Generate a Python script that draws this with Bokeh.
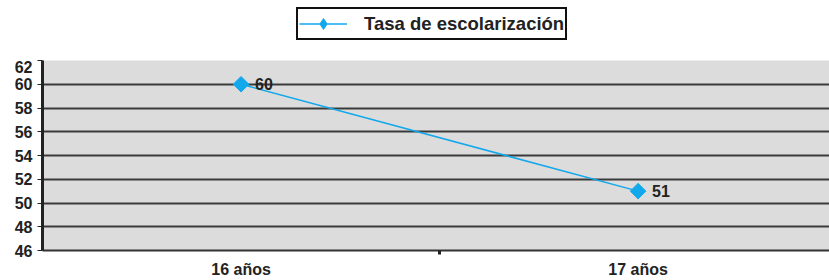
import math
from bokeh.plotting import figure
from bokeh.layouts import column
from bokeh.models import FixedTicker, Legend, LegendItem, Range1d, ColumnDataSource, LabelSet
from bokeh.core.properties import value
from bokeh.embed import file_html
from bokeh.resources import INLINE

categories = ["16 años", "17 años"]
values = [60, 51]
y_ticks = [46, 48, 50, 52, 54, 56, 58, 60, 62]
series_name = "Tasa de escolarización"

xpos = [i + 0.5 for i in range(len(categories))]
src = ColumnDataSource(dict(x=xpos, y=values, lbl=[str(v) for v in values]))

FONT = "Liberation Sans"
COL = "#12a8ec"
TXT = "#222222"

# ---- legend strip (top) ----
top = figure(width=829, height=60, output_backend="svg", toolbar_location=None,
             x_axis_location=None, y_axis_location=None,
             x_range=Range1d(0, 829), y_range=Range1d(0, 60),
             min_border_left=0, min_border_right=0, min_border_top=0, min_border_bottom=0)
top.grid.visible = False
top.outline_line_color = None
top.background_fill_color = "white"
lg_line = top.line(x=[-100, -90], y=[-100, -100], line_color=COL, line_width=1.5)
lg_mk = top.scatter(x=[-100], y=[-100], marker="diamond", size=11,
                    fill_color=COL, line_color=COL)
legend = Legend(items=[LegendItem(label=series_name, renderers=[lg_line, lg_mk])],
                location=(254, 20), orientation="horizontal",
                label_text_font=FONT, label_text_font_style="bold", label_text_font_size="18.5px",
                label_text_color=TXT, glyph_width=48, glyph_height=27,
                border_line_color="#111111", border_line_width=2, border_line_alpha=1.0,
                padding=1, margin=0, spacing=0, label_standoff=17)
top.add_layout(legend, "center")

# ---- main chart ----
p = figure(width=829, height=220, output_backend="svg", toolbar_location=None,
           x_range=Range1d(0, 1.982), y_range=Range1d(46, 62),
           min_border_left=42, min_border_right=0, min_border_top=0, min_border_bottom=30)
p.background_fill_color = "#dcdcdc"
p.border_fill_color = "white"
p.outline_line_color = None

ln = p.line("x", "y", source=src, line_color=COL, line_width=1.5)
mk = p.scatter("x", "y", source=src, marker="square", size=11, angle=math.pi / 4,
               fill_color=COL, line_color=COL)

labels = LabelSet(x="x", y="y", text="lbl", source=src, x_offset=14, y_offset=0,
                  text_baseline="middle", text_font=value(FONT), text_font_style="bold",
                  text_font_size="16px", text_color=TXT)
p.add_layout(labels)

# y axis
p.yaxis.ticker = FixedTicker(ticks=y_ticks)
p.yaxis.axis_line_width = 3
p.yaxis.axis_line_color = TXT
p.yaxis.major_tick_out = 5
p.yaxis.major_tick_in = 0
p.yaxis.major_tick_line_color = TXT
p.yaxis.major_tick_line_width = 1
p.yaxis.minor_tick_line_color = None
p.yaxis.major_label_text_font = FONT
p.yaxis.major_label_text_font_style = "bold"
p.yaxis.major_label_text_font_size = "16px"
p.yaxis.major_label_text_color = TXT
p.yaxis.major_label_standoff = 5

# x axis
p.xaxis.ticker = FixedTicker(ticks=xpos, minor_ticks=[1.0])
p.xaxis.major_label_overrides = {x: c for x, c in zip(xpos, categories)}
p.xaxis.major_tick_line_color = None
p.xaxis.minor_tick_line_color = TXT
p.xaxis.minor_tick_line_width = 3
p.xaxis.minor_tick_out = 4
p.xaxis.minor_tick_in = 0
p.xaxis.axis_line_color = "#333333"
p.xaxis.axis_line_width = 2
p.xaxis.major_label_text_font = FONT
p.xaxis.major_label_text_font_style = "bold"
p.xaxis.major_label_text_font_size = "16px"
p.xaxis.major_label_text_color = TXT
p.xaxis.major_label_standoff = 4

p.xgrid.grid_line_color = None
p.ygrid.ticker = FixedTicker(ticks=y_ticks)
p.ygrid.grid_line_color = "#3a3a3a"
p.ygrid.grid_line_width = 2

layout = column(top, p, spacing=0)
open("out.html", "w").write(file_html(layout, INLINE))
